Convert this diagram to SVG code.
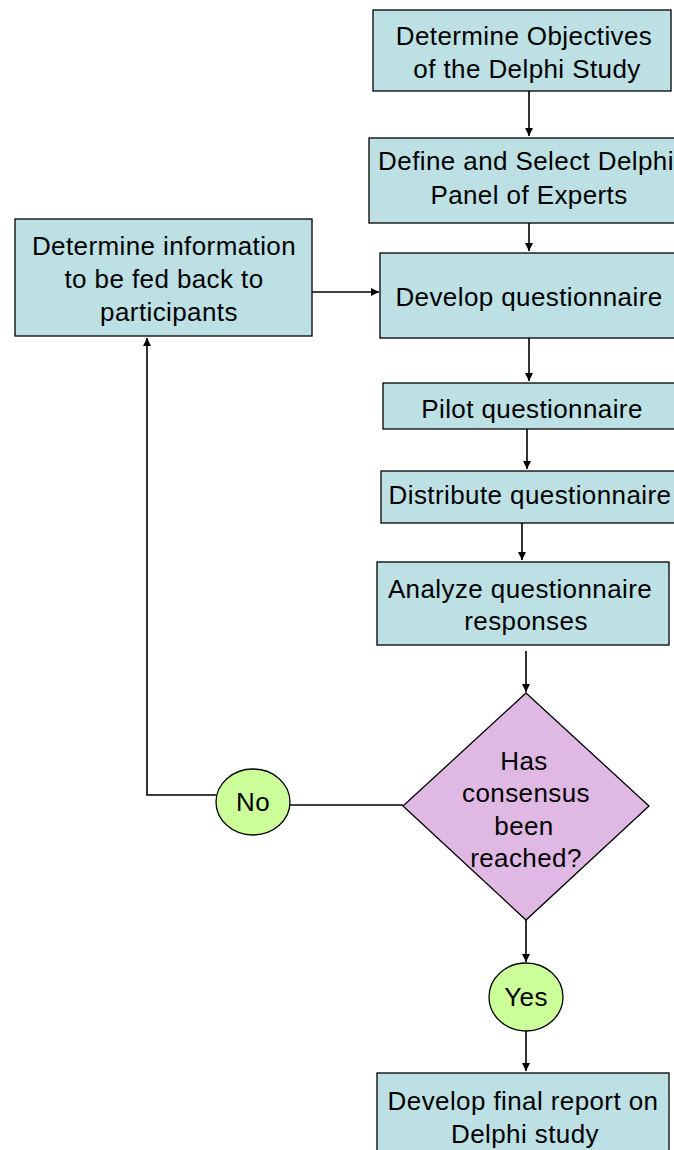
<svg xmlns="http://www.w3.org/2000/svg" width="674" height="1150" viewBox="0 0 674 1150">
<style>
.box{fill:#BCE0E3;stroke:#000;stroke-width:1.3}
.dia{fill:#DFB9E3;stroke:#000;stroke-width:1.3}
.circ{fill:#CCFF99;stroke:#000;stroke-width:1.3}
.t{font-family:"Liberation Sans",Arial,sans-serif;font-size:26px;fill:#000;text-anchor:middle;letter-spacing:0.4px}
.c{fill:none;stroke:#000;stroke-width:1.6}
</style>
<defs>
<marker id="ah" markerWidth="10" markerHeight="10" refX="8" refY="4" orient="auto" markerUnits="userSpaceOnUse">
<path d="M0,0 L8,4 L0,8 Z" fill="#000"/>
</marker>
</defs>
<rect width="674" height="1150" fill="#fff"/>
<g id="connectors">
<line class="c" x1="529" y1="91" x2="529" y2="136" marker-end="url(#ah)"/>
<line class="c" x1="529" y1="223" x2="529" y2="251" marker-end="url(#ah)"/>
<line class="c" x1="312" y1="292" x2="379" y2="292" marker-end="url(#ah)"/>
<line class="c" x1="529" y1="338" x2="529" y2="381" marker-end="url(#ah)"/>
<line class="c" x1="527" y1="429" x2="527" y2="469" marker-end="url(#ah)"/>
<line class="c" x1="522" y1="523" x2="522" y2="560" marker-end="url(#ah)"/>
<line class="c" x1="526" y1="651" x2="526" y2="692" marker-end="url(#ah)"/>
<line class="c" x1="290" y1="805" x2="403" y2="805"/>
<polyline class="c" points="216,795 147,795 147,338" marker-end="url(#ah)"/>
<line class="c" x1="526" y1="920" x2="526" y2="962" marker-end="url(#ah)"/>
<line class="c" x1="526" y1="1031" x2="526" y2="1071" marker-end="url(#ah)"/>
</g>
<g id="n1"><rect class="box" x="373" y="10" width="298" height="81"/>
<text class="t" x="524" y="45">Determine Objectives</text><text class="t" x="527" y="78">of the Delphi Study</text></g>
<g id="n2"><rect class="box" x="369" y="138" width="320" height="85"/>
<text class="t" x="526" y="170">Define and Select Delphi</text><text class="t" x="529" y="204">Panel of Experts</text></g>
<g id="n3"><rect class="box" x="380" y="253" width="310" height="85"/>
<text class="t" x="529" y="306">Develop questionnaire</text></g>
<g id="n4"><rect class="box" x="383" y="383" width="310" height="46"/>
<text class="t" x="532" y="418">Pilot questionnaire</text></g>
<g id="n5"><rect class="box" x="381" y="471" width="310" height="52"/>
<text class="t" x="530" y="504">Distribute questionnaire</text></g>
<g id="n6"><rect class="box" x="377" y="562" width="292" height="83"/>
<text class="t" x="520" y="598">Analyze questionnaire</text><text class="t" x="526" y="630">responses</text></g>
<g id="n7"><rect class="box" x="15" y="219" width="297" height="117"/>
<text class="t" x="164" y="255">Determine information</text><text class="t" x="164" y="288">to be fed back to</text><text class="t" x="169" y="321">participants</text></g>
<g id="n8"><polygon class="dia" points="526,693 649,806 526,920 403,806"/>
<text class="t" x="524" y="770">Has</text><text class="t" x="526" y="802">consensus</text><text class="t" x="524" y="835">been</text><text class="t" x="526" y="867">reached?</text></g>
<g id="n9"><ellipse class="circ" cx="253" cy="802" rx="37" ry="33"/>
<text class="t" x="253" y="811">No</text></g>
<g id="n10"><ellipse class="circ" cx="526" cy="997" rx="37" ry="34"/>
<text class="t" x="526" y="1006">Yes</text></g>
<g id="n11"><rect class="box" x="377" y="1073" width="292" height="90"/>
<text class="t" x="523" y="1110">Develop final report on</text><text class="t" x="525" y="1143">Delphi study</text></g>
</svg>
